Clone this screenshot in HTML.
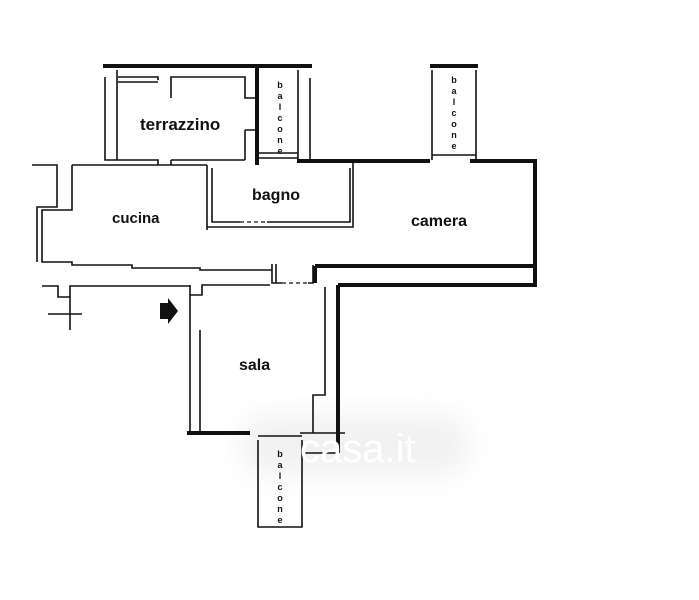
<!DOCTYPE html>
<html><head><meta charset="utf-8"><style>
html,body{margin:0;padding:0;background:#fff;width:699px;height:600px;overflow:hidden}
svg{display:block}
text{font-family:"Liberation Sans",sans-serif;font-weight:bold;fill:#111}
.b{font-size:9px;font-weight:normal;fill:#333}
</style></head><body>
<svg width="699" height="600" viewBox="0 0 699 600">
<defs><filter id="bl" x="-50%" y="-50%" width="200%" height="200%"><feGaussianBlur stdDeviation="14"/></filter></defs>
<rect x="240" y="415" width="230" height="60" rx="30" fill="#f1f1f1" filter="url(#bl)"/>
<g fill="none" stroke="#111" stroke-width="1.6">
<path d="M105 77V160H118M117 70V160M118 77H158V80M118 82H158M171 98V77H245V98H255M245 130H255M245 160V130M118 160H158V165M171 160H245"/>
<path d="M171 160V165"/>
<path d="M298 70V160M310 78V160M258 158H298M258 153H298"/>
<path d="M32 165H57V207H37V262M72 165H207M72 165V210H42V262H72V265H132V268H200V270H272"/>
<path d="M42 286H58V297H70V286H190M70 286V330M48 314H82"/>
<path d="M207 165V230M212 168V222H240M267 222H350V168M207 227H353V163" />
<path d="M272 264V283H282M276 264V283M313 265V283H308"/>
<path d="M190 285V433M200 330V433M190 295H202V285H270M325 287V395H313V433H300M337 285V453H302M313 433H345"/>
<path d="M258 440V527H302V440M258 436H302M432 70V160M476 70V160M432 155H476"/>
</g>
<path d="M240 222H267M282 283L308 283" stroke="#111" stroke-width="1.2" stroke-dasharray="4 3"/>
<g stroke="#111" stroke-width="4" fill="none">
<path d="M103 66H312M257 68V165M297 161H430M470 161H535V285M315 266H533M315 266V283M338 285H537M338 285V453"/>
<path d="M430 66H478"/>
<path d="M187 433H250"/>
</g>
<path d="M160 303H168V298L178 311L168 324V319H160Z" fill="#111"/>
<text x="140" y="130" font-size="17">terrazzino</text>
<text x="112" y="223" font-size="15">cucina</text>
<text x="252" y="200" font-size="16">bagno</text>
<text x="411" y="226" font-size="16">camera</text>
<text x="239" y="370" font-size="16">sala</text>
<g class="b" text-anchor="middle">
<text x="280" y="88">b</text><text x="280" y="99">a</text><text x="280" y="110">l</text><text x="280" y="121">c</text><text x="280" y="132">o</text><text x="280" y="143">n</text><text x="280" y="154">e</text>
<text x="454" y="83">b</text><text x="454" y="94">a</text><text x="454" y="105">l</text><text x="454" y="116">c</text><text x="454" y="127">o</text><text x="454" y="138">n</text><text x="454" y="149">e</text>
<text x="280" y="457">b</text><text x="280" y="468">a</text><text x="280" y="479">l</text><text x="280" y="490">c</text><text x="280" y="501">o</text><text x="280" y="512">n</text><text x="280" y="523">e</text>
</g>
<text x="300" y="462" font-size="40" style="fill:#fff;font-weight:normal">casa.it</text>
</svg>
</body></html>
